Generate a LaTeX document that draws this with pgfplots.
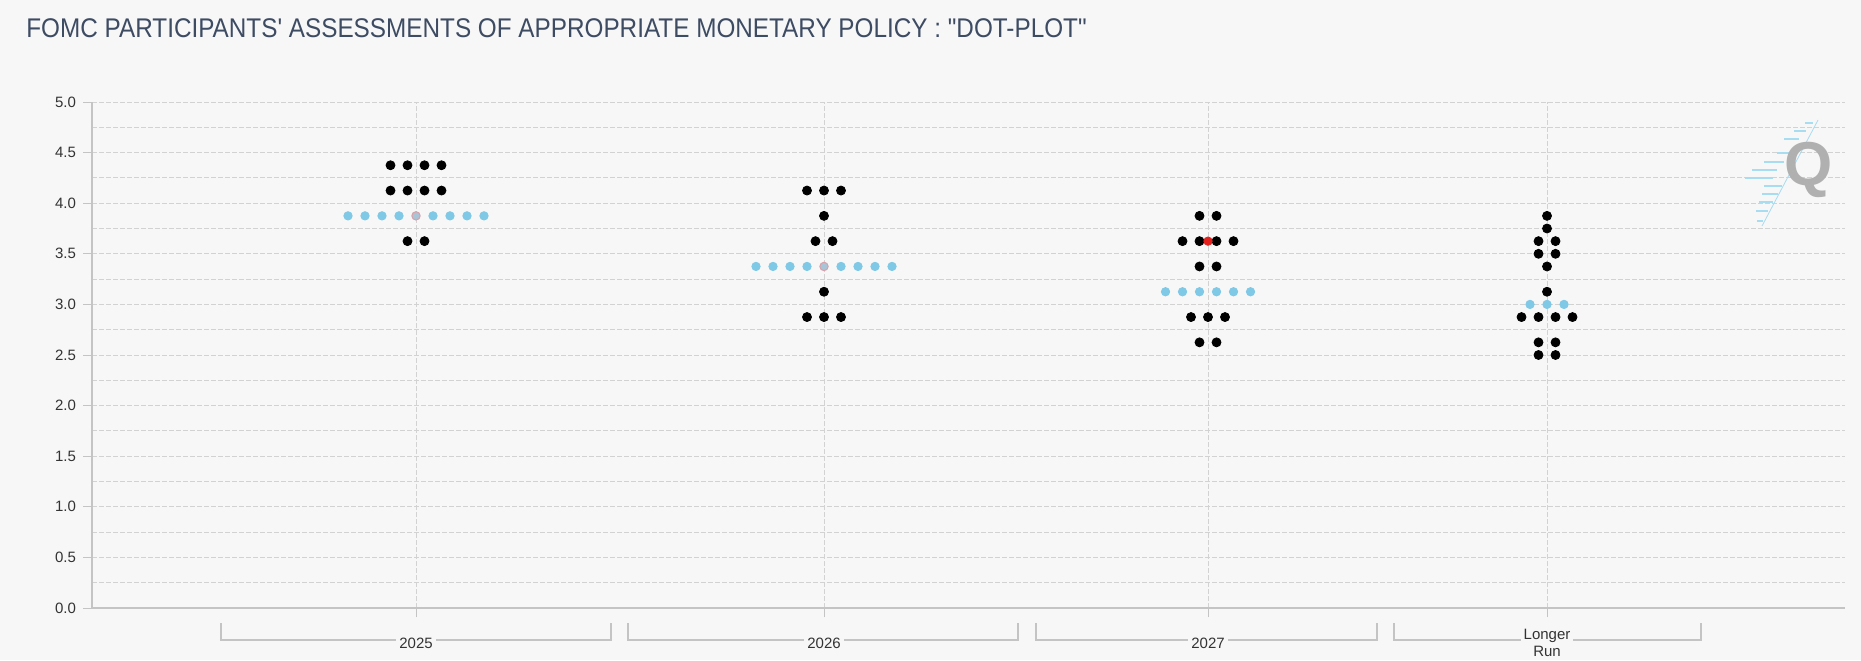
\documentclass[border=0pt]{standalone}
\usepackage{pgfplots}
\pgfplotsset{compat=1.18}
\usepackage{fontspec}
\setmainfont{Liberation Sans}
\definecolor{bg}{HTML}{F7F7F7}
\definecolor{gridc}{HTML}{D2D2D2}
\definecolor{axc}{HTML}{C4C4C4}
\definecolor{dotblue}{HTML}{7FC8E6}
\definecolor{dotred}{HTML}{E3211C}
\definecolor{titlec}{HTML}{3D4B63}
\definecolor{tickc}{HTML}{333333}
\definecolor{qgray}{HTML}{B0B0B0}
\definecolor{qblue}{HTML}{A8DCF0}
\definecolor{pinkedge}{HTML}{D8A0A8}
\definecolor{midfill}{HTML}{A9C4D6}
\begin{document}
\begin{tikzpicture}
\fill[bg] (0,0) rectangle (930.5pt,330pt);
\node[anchor=west, inner sep=0pt, text=titlec, font=\fontsize{13.5}{16}\selectfont] at (13pt,316pt)
  {\scalebox{0.9}[1]{FOMC PARTICIPANTS\textquotesingle{} ASSESSMENTS OF APPROPRIATE MONETARY POLICY : \textquotedbl DOT-PLOT\textquotedbl}};
\foreach \a/\b in {110.5/305.5, 314/509, 518/688.5, 697/850.5} {
  \draw[axc, line width=0.6pt] (\a pt,18.5pt) -- (\a pt,10pt) -- (\b pt,10pt) -- (\b pt,18.5pt);
}
\begin{axis}[
  at={(46pt,26pt)}, anchor=south west,
  scale only axis, width=876.5pt, height=253pt,
  xmin=0, xmax=1753, ymin=0, ymax=5,
  axis x line*=bottom, axis y line*=left,
  axis line style={axc, line width=0.7pt, -},
  xtick={324,732,1116,1455},
  xticklabels={2025,2026,2027,{Longer\\Run}},
  ytick={0,0.5,1,1.5,2,2.5,3,3.5,4,4.5,5},
  minor ytick={0.25,0.75,1.25,1.75,2.25,2.75,3.25,3.75,4.25,4.75},
  ymajorgrids, yminorgrids, xmajorgrids,
  grid style={gridc, line width=0.5pt, dash pattern=on 2.5pt off 1pt},
  minor grid style={gridc, line width=0.5pt, dash pattern=on 2.5pt off 1pt},
  tick align=outside,
  major tick length=4.5pt, minor tick length=0pt,
  tick style={axc, line width=0.5pt},
  /pgf/number format/assume math mode=true,
  yticklabel style={/pgf/number format/fixed, /pgf/number format/fixed zerofill, /pgf/number format/precision=1,
     font=\fontsize{7.5}{8.5}\selectfont, text=tickc},
  xticklabel style={font=\fontsize{7.5}{8.5}\selectfont, text=tickc, fill=bg, inner sep=1.5pt,
     align=center, anchor=center, yshift=-13pt},
  axis on top,
  clip=false,
]
% black dots
\addplot[only marks, mark=*, mark size=2.25pt, mark options={fill=black, draw=black}] coordinates {
 (298.5,4.375) (315.5,4.375) (332.5,4.375) (349.5,4.375)
 (298.5,4.125) (315.5,4.125) (332.5,4.125) (349.5,4.125)
 (315.5,3.625) (332.5,3.625)
 (715,4.125) (732,4.125) (749,4.125)
 (732,3.875)
 (723.5,3.625) (740.5,3.625)
 (732,3.125)
 (715,2.875) (732,2.875) (749,2.875)
 (1107.5,3.875) (1124.5,3.875)
 (1090.5,3.625) (1107.5,3.625) (1124.5,3.625) (1141.5,3.625)
 (1107.5,3.375) (1124.5,3.375)
 (1099,2.875) (1116,2.875) (1133,2.875)
 (1107.5,2.625) (1124.5,2.625)
 (1455,3.875)
 (1455,3.75)
 (1446.5,3.625) (1463.5,3.625)
 (1446.5,3.5) (1463.5,3.5)
 (1455,3.375)
 (1455,3.125)
 (1429.5,2.875) (1446.5,2.875) (1463.5,2.875) (1480.5,2.875)
 (1446.5,2.625) (1463.5,2.625)
 (1446.5,2.5) (1463.5,2.5)
};
% light blue dots (median row)
\addplot[only marks, mark=*, mark size=2.1pt, mark options={fill=dotblue, draw=dotblue}] coordinates {
 (256,3.875) (273,3.875) (290,3.875) (307,3.875) (341,3.875) (358,3.875) (375,3.875) (392,3.875)
 (664,3.375) (681,3.375) (698,3.375) (715,3.375) (749,3.375) (766,3.375) (783,3.375) (800,3.375)
 (1073.5,3.125) (1090.5,3.125) (1107.5,3.125) (1124.5,3.125) (1141.5,3.125) (1158.5,3.125)
 (1438,3.0) (1455,3.0) (1472,3.0)
};
% centre dots of the median rows
\addplot[only marks, mark=*, mark size=2.1pt, mark options={fill=midfill, draw=pinkedge, line width=0.5pt}] coordinates {
 (324,3.875) (732,3.375)
};
% red dot
\addplot[only marks, mark=*, mark size=2.1pt, mark options={fill=dotred, draw=dotred}] coordinates {
 (1116,3.625)
};
\end{axis}
% Q logo watermark
\begin{scope}[yshift=-5pt]
\foreach \x/\y/\l in {1813/113/8, 1806/121/12, 1799/129/15, 1791/143/14, 1784/152/20, 1777/160/25, 1773/168/28, 1782/176/18, 1778/184/16, 1773/192/14, 1768/201/12, 1763/211/6} {
  \draw[qblue, line width=0.6pt] ({(\x-\l)*0.5pt},{(660-\y)*0.5pt}) -- ({\x*0.5pt},{(660-\y)*0.5pt});
}
\draw[qblue, line width=0.4pt] (881pt,222pt) -- (909pt,275pt);
\node[text=qgray, inner sep=0pt, font=\fontsize{31}{31}\selectfont\bfseries] at (904.5pt,250pt) {Q};
\end{scope}
\pgfresetboundingbox
\path[use as bounding box] (0,0) rectangle (930.5pt,330pt);
\end{tikzpicture}
\end{document}
